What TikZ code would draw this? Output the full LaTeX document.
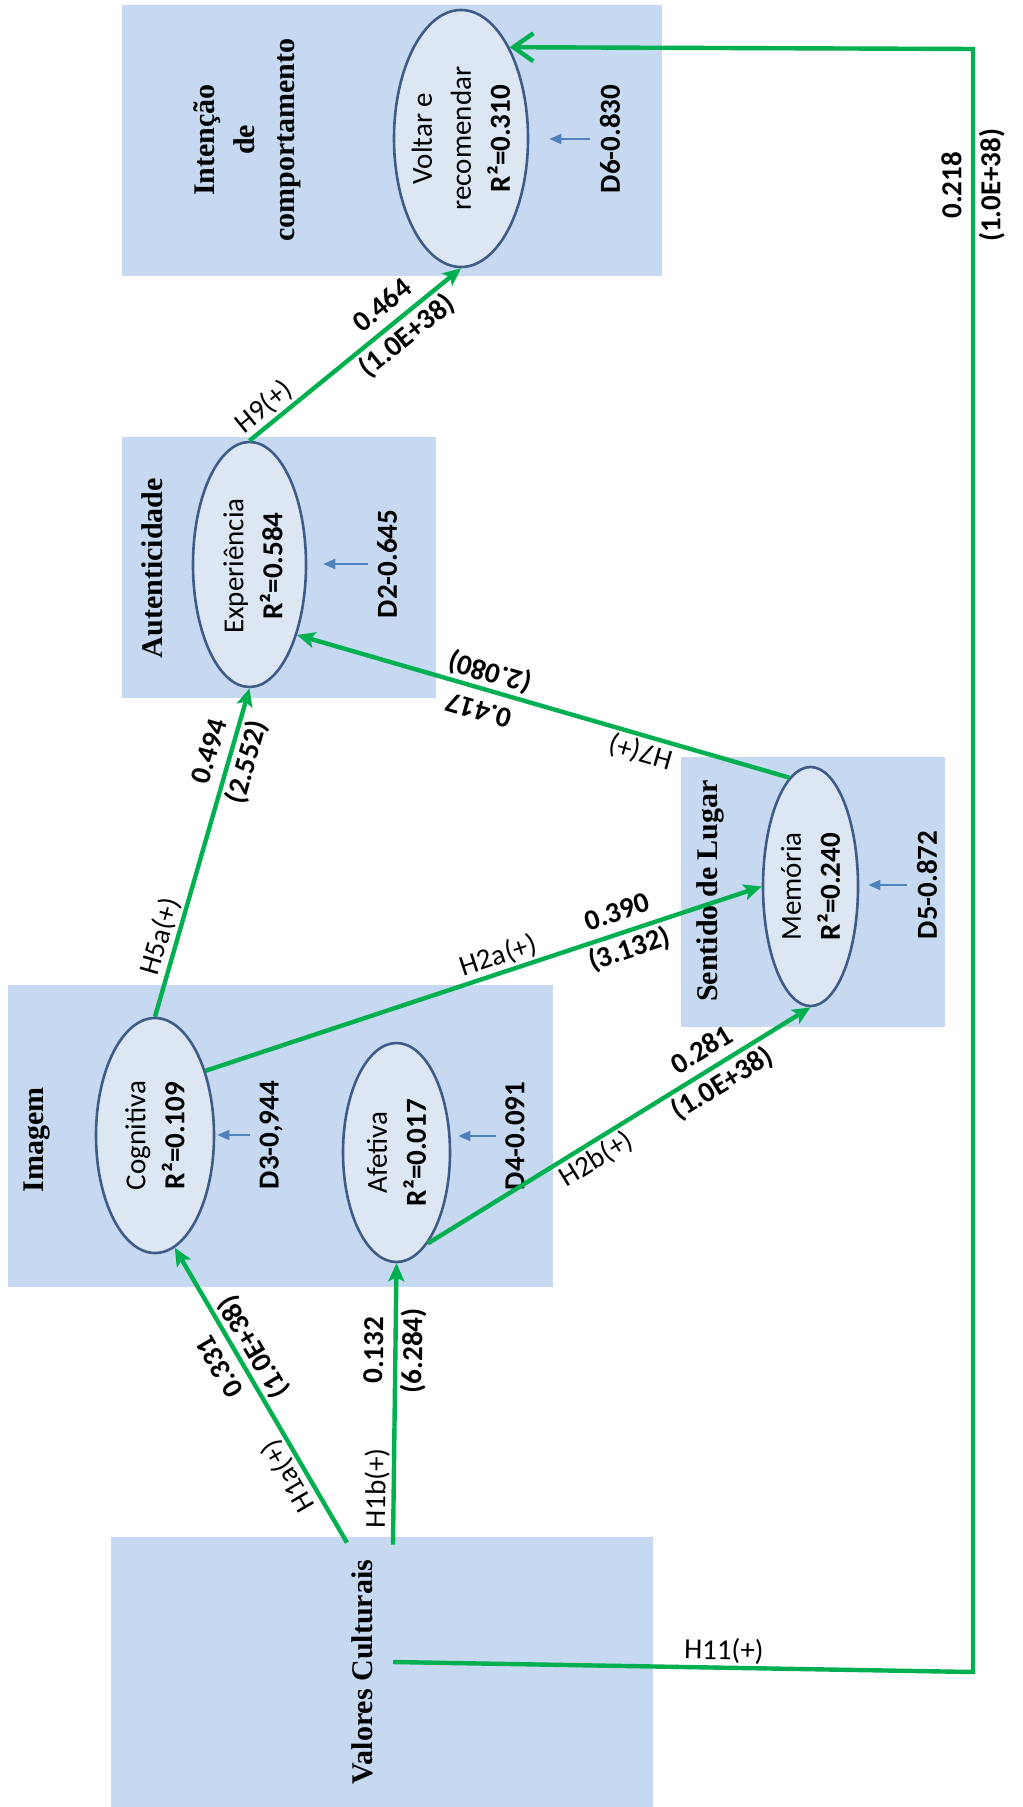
\documentclass[tikz,border=0pt]{standalone}
\usepackage{fontspec}
\setmainfont{Carlito}
\newfontfamily\headfont{Liberation Serif}
\usetikzlibrary{
    arrows.meta,
    calc,
    fit,
    shapes.geometric
}
\definecolor{PanelBlue}{RGB}{198,217,241}
\definecolor{EllFill}{RGB}{221,231,243}
\definecolor{EllLine}{RGB}{62,92,134}
\definecolor{PathGreen}{RGB}{0,176,80}
\definecolor{DistBlue}{RGB}{79,129,189}

\begin{document}
\begin{tikzpicture}[
        x=0.5pt, y=-0.5pt,
        >=Stealth,
        panel/.style={fill=PanelBlue, draw=none, inner sep=0pt},
        construct/.style={ellipse, draw=EllLine, line width=1.3pt, fill=EllFill, inner sep=0pt},
        heading/.style={font=\headfont\bfseries\fontsize{15}{20}\selectfont, rotate=90, align=center},
        inside/.style={font=\fontsize{14.5}{19.5}\selectfont, rotate=90, align=center},
        disturb/.style={font=\bfseries\fontsize{14.5}{19.5}\selectfont, rotate=90, inner sep=4.5pt},
        dlink/.style={DistBlue, line width=0.9pt, -{Triangle[length=6pt,width=5pt]}},
        effect/.style={PathGreen, line width=2.2pt, -{Stealth[length=9pt,width=8pt,inset=2pt]}},
        hyp/.style={text=black, font=\fontsize{14.5}{19.5}\selectfont, sloped, inner sep=1pt},
        coef/.style={text=black, font=\bfseries\fontsize{14.5}{19.5}\selectfont, sloped, align=center, inner sep=0pt},
    ]

    \useasboundingbox (0,0) rectangle (1022,1807);

    % Construct panels
    \node[panel, fit={(122,5) (662,276)}] (pIC) {};
    \node[panel, fit={(122,437) (436,698)}] (pAut) {};
    \node[panel, fit={(681,757) (945,1027)}] (pSL) {};
    \node[panel, fit={(8,985) (553,1287)}] (pIm) {};
    \node[panel, fit={(111,1537) (653,1807)}] (pVC) {};

    % Panel headings
    \node[heading] (hIC) at (247,140) {Intenção\\de\\comportamento};
    \node[heading] (hAut) at (152,568) {Autenticidade};
    \node[heading] (hSL) at (710,891) {Sentido de Lugar};
    \node[heading] (hIm) at (37,1140) {Imagem};
    \node[heading] (hVC) at (362,1672) {Valores Culturais};

    % Latent variables
    \node[construct, minimum width=67pt, minimum height=128.5pt] (voltar) at (461,138.5) {};
    \node[construct, minimum width=56.5pt, minimum height=122.5pt] (exp) at (249.5,564.5) {};
    \node[construct, minimum width=47.5pt, minimum height=119.5pt] (mem) at (810.5,886.5) {};
    \node[construct, minimum width=59pt, minimum height=117.5pt] (cog) at (155,1135.5) {};
    \node[construct, minimum width=53.5pt, minimum height=109.5pt] (afe) at (396.5,1152.5) {};

    \node[inside] (tVoltar) at (voltar) {Voltar e\\recomendar\\\textbf{R²=0.310}};
    \node[inside] (tExp) at (253,566) {Experiência\\\textbf{R²=0.584}};
    \node[inside] (tMem) at (mem) {Memória\\\textbf{R²=0.240}};
    \node[inside] (tCog) at (cog) {Cognitiva\\\textbf{R²=0.109}};
    \node[inside] (tAfe) at (afe) {Afetiva\\\textbf{R²=0.017}};

    % Disturbance terms
    \node[disturb] (d6) at (610,139) {D6-0.830};
    \node[disturb] (d2) at (387,564) {D2-0.645};
    \node[disturb] (d5) at (927,885) {D5-0.872};
    \node[disturb] (d3) at (271,1135) {D3-0,944};
    \node[disturb] (d4) at (515,1136) {D4-0.091};

    \draw[dlink, shorten >=10pt] (d6.north) -- (d6.north -| voltar.east);
    \draw[dlink, shorten >=8pt] (d2.north) -- (d2.north -| exp.east);
    \draw[dlink, shorten >=4.5pt] (d5.north) -- (d5.north -| mem.east);
    \draw[dlink, shorten >=1pt] (d3.north) -- (d3.north -| cog.east);
    \draw[dlink, shorten >=3.5pt] (d4.north) -- (d4.north -| afe.east);

    % Structural paths
    \draw[effect] (exp.north) -- node[hyp, above, pos=.12] (lH9) {H9(+)}
        node[coef, pos=.69] (cH9) {0.464\\(1.0E+38)} (voltar.south);
    \draw[effect] (cog.north) -- node[hyp, above, pos=.23] (lH5a) {H5a(+)}
        node[coef, pos=.79] (cH5a) {0.494\\(2.552)} (exp.south);
    \draw[effect] (cog.52) -- node[hyp, above, pos=.536] (lH2a) {H2a(+)}
        node[coef, pos=.752] (cH2a) {0.390\\(3.132)} (mem.west);
    \draw[effect] (afe.-71) -- node[hyp, below, pos=.417] (lH2b) {H2b(+)}
        node[coef, pos=.744] (cH2b) {0.281\\(1.0E+38)} (mem.south);
    \draw[effect, allow upside down] (mem.101) -- node[hyp, above, pos=.292] (lH7) {H7(+)}
        node[coef, pos=.618] (cH7) {0.417\\(2.080)} (exp.-56);
    \draw[effect, allow upside down] ($(pVC.north)+(-35,6)$) -- node[hyp, above, pos=.255] (lH1a) {H1a(+)}
        node[coef, pos=.633] (cH1a) {0.331\\(1.0E+38)} (cog.-80);
    \draw[effect] ($(pVC.north)+(11,8)$) -- node[hyp, above, pos=.2] (lH1b) {H1b(+)}
        node[coef, pos=.69] (cH1b) {0.132\\(6.284)} (afe.south);

    % Direct path round the right-hand side
    \coordinate (c1) at (973,1672);
    \coordinate (c2) at (973,49);
    \draw[effect, -{Straight Barb[length=10pt,width=14pt]}] ($(pVC.center)+(11,-10)$)
        -- node[hyp, above, pos=.57] (lH11) {H11(+)} (c1)
        -- node[coef, pos=.916] (cH11) {0.218\\(1.0E+38)} (c2)
        -- (voltar.62);
\end{tikzpicture}
\end{document}
